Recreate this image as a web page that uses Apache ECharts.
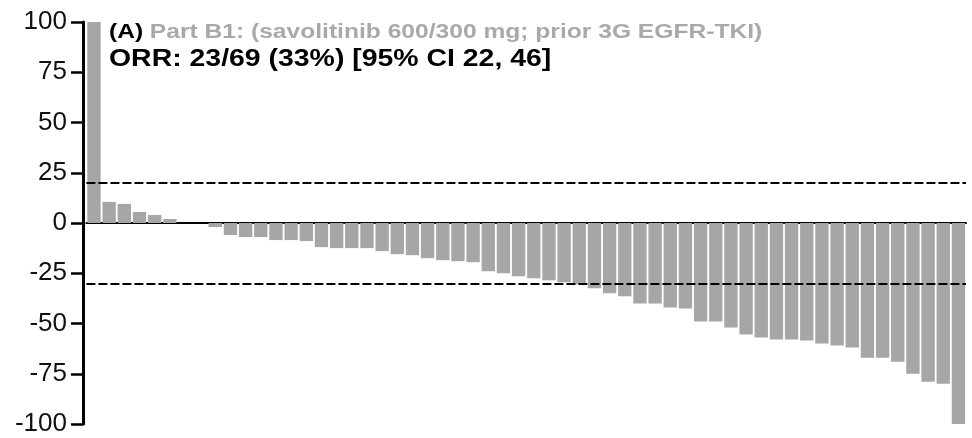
<!DOCTYPE html>
<html>
<head>
<meta charset="utf-8">
<script src="https://cdn.jsdelivr.net/npm/echarts@6/dist/echarts.min.js"></script>
<style>html,body{margin:0;padding:0;background:#fff;}#c{width:972px;height:438px;}</style>
</head>
<body>
<div id="c"></div>
<script>
// Best percentage change from baseline in target lesion size, one bar per patient
var patients = [];
for (var i = 1; i <= 58; i++) patients.push('P' + i);
var changePct = [100, 10.5, 9.5, 5.5, 4, 2, 0, 0, -2, -6,
  -7, -7, -8.5, -8.5, -9, -12, -12.5, -12.5, -12.5, -14,
  -15.5, -16, -17.5, -18.5, -19, -19.5, -24, -25, -26.5, -27.5,
  -28.5, -29.5, -30.5, -32.5, -35, -36.5, -40, -40, -42, -42.5,
  -49, -49, -52, -55.5, -57, -58, -58, -58.5, -60, -61,
  -62, -67, -67, -69, -75, -79, -80, -100];
var thresholds = [20, -30];
var yTicks = [-100, -75, -50, -25, 0, 25, 50, 75, 100];
var titlePanel = '(A)';
var titleText = 'Part B1: (savolitinib 600/300 mg; prior 3G EGFR-TKI)';
var titleOrr = 'ORR: 23/69 (33%) [95% CI 22, 46]';

var FONT = '"Liberation Sans", Arial, sans-serif';
var chart = echarts.init(document.getElementById('c'), null, {renderer: 'canvas'});
chart.setOption({
  animation: false,
  backgroundColor: '#ffffff',
  grid: {left: 86.4, right: 6, top: 22, bottom: 14, containLabel: false},
  xAxis: {
    type: 'category',
    data: patients,
    axisLine: {show: true, onZero: true, lineStyle: {color: '#000', width: 2}},
    axisTick: {show: false},
    axisLabel: {show: false},
    splitLine: {show: false}
  },
  yAxis: {
    type: 'value',
    min: yTicks[0],
    max: yTicks[yTicks.length - 1],
    interval: 25,
    offset: 3.4,
    axisLine: {show: true, lineStyle: {color: '#000', width: 3}},
    axisTick: {show: true, length: 12, lineStyle: {color: '#000', width: 2.5}},
    axisLabel: {color: '#111', fontSize: 26, fontFamily: FONT, margin: 16},
    splitLine: {show: false}
  },
  series: [{
    type: 'bar',
    data: changePct,
    barCategoryGap: '12%',
    itemStyle: {color: '#a6a6a6'},
    markLine: {
      silent: true,
      symbol: ['none', 'none'],
      label: {show: false},
      lineStyle: {color: '#000', width: 2, type: [9, 3]},
      data: thresholds.map(function (v) { return {yAxis: v}; })
    }
  }],
  graphic: [
    {
      type: 'text', x: 109, y: 32, scaleX: 1.2, z: 10,
      style: {
        text: '{a|' + titlePanel + '} {b|' + titleText + '}',
        verticalAlign: 'middle', align: 'left',
        font: 'bold 20px ' + FONT,
        rich: {
          a: {fill: '#000', font: 'bold 20.5px ' + FONT, color: '#000', fontSize: 20.5, fontWeight: 'bold', fontFamily: FONT},
          b: {fill: '#a9a9a9', font: 'bold 20.5px ' + FONT, color: '#a9a9a9', fontSize: 20.5, fontWeight: 'bold', fontFamily: FONT}
        }
      }
    },
    {
      type: 'text', x: 109, y: 59, scaleX: 1.16, z: 10,
      style: {
        text: titleOrr,
        verticalAlign: 'middle', align: 'left',
        fill: '#000',
        font: 'bold 24.5px ' + FONT
      }
    }
  ]
});
</script>
</body>
</html>
